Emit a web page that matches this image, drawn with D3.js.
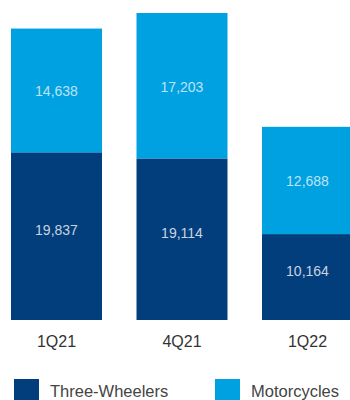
<!DOCTYPE html>
<html>
<head>
<meta charset="utf-8">
<script src="https://cdn.jsdelivr.net/npm/d3@7"></script>
<style>
  body { margin: 0; background: #fff; }
  svg { display: block; font-family: "Liberation Sans", Arial, sans-serif; }
</style>
</head>
<body>
<svg id="chart" width="350" height="400"></svg>
<script>
const quarters = ['1Q21', '4Q21', '1Q22'];
const threeWheelers = [19837, 19114, 10164];
const motorcycles = [14638, 17203, 12688];
const seriesNames = ['Three-Wheelers', 'Motorcycles'];

const width = 350;
const height = 400;
const colors = ['#023e7c', '#00a1e1'];

const rows = quarters.map((q, i) => ({ quarter: q, tw: threeWheelers[i], mc: motorcycles[i] }));
const stack = d3.stack().keys(['tw', 'mc'])(rows);

const svg = d3.select('#chart');

const x = d3.scaleBand()
    .domain(quarters)
    .range([11, 353])
    .paddingInner(0.275)
    .paddingOuter(0);

const y = d3.scaleLinear()
    .domain([0, d3.max(rows, d => d.tw + d.mc)])
    .range([320, 13]);

const fmt = d3.format(',');

stack.forEach((layer, li) => {
    const g = svg.append('g');
    g.selectAll('rect')
        .data(layer)
        .enter()
        .append('rect')
        .attr('x', d => x(d.data.quarter))
        .attr('y', d => y(d[1]))
        .attr('width', x.bandwidth())
        .attr('height', d => y(d[0]) - y(d[1]))
        .attr('fill', colors[li]);

    // value labels, the dark segment ones sit a bit above centre
    g.selectAll('text')
        .data(layer)
        .enter()
        .append('text')
        .attr('x', d => x(d.data.quarter) + x.bandwidth() / 2)
        .attr('y', d => (y(d[0]) + y(d[1])) / 2 - (li === 0 ? 6 : -1))
        .attr('dy', '0.35em')
        .attr('text-anchor', 'middle')
        .attr('fill', li === 0 ? '#c9d3e0' : '#bfe3f5')
        .style('font-size', '14px')
        .text(d => fmt(d[1] - d[0]));
});

// category axis
const xAxis = d3.axisBottom(x).tickSize(0).tickPadding(0);
const axisG = svg.append('g')
    .attr('transform', 'translate(0,336)')
    .call(xAxis);
axisG.select('.domain').remove();
axisG.selectAll('text')
    .attr('fill', '#333')
    .style('font-size', '16px')
    .style('font-family', '"Liberation Sans", Arial, sans-serif');

// legend
const legend = svg.append('g');
const legendX = [14, 215];
seriesNames.forEach((name, i) => {
    legend.append('rect')
        .attr('x', legendX[i])
        .attr('y', 379)
        .attr('width', 25)
        .attr('height', 25)
        .attr('fill', colors[i]);
    legend.append('text')
        .attr('x', legendX[i] + 36)
        .attr('y', 397)
        .attr('fill', '#444')
        .style('font-size', '16.5px')
        .text(name);
});
</script>
</body>
</html>
